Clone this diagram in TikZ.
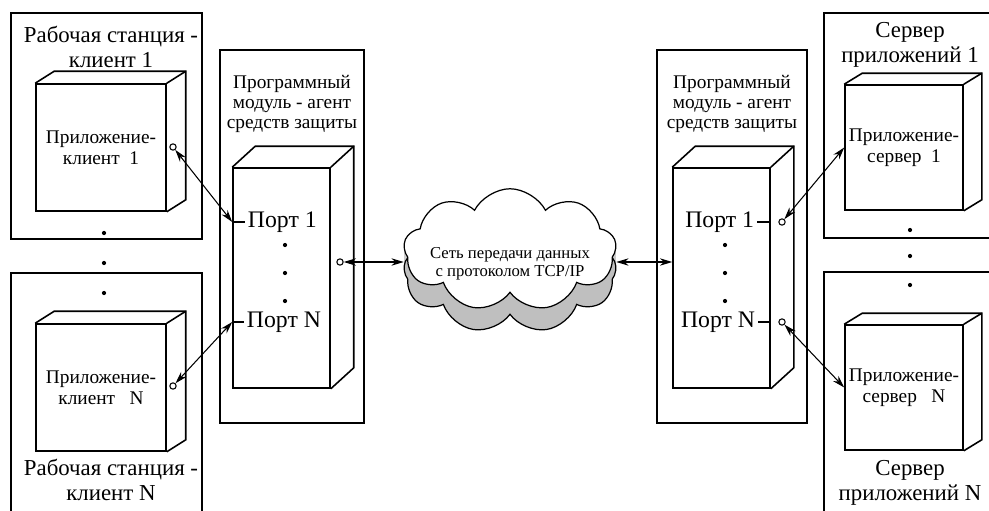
\documentclass[tikz,border=0pt]{standalone}
\usepackage{fontspec}
\setmainfont{Liberation Serif}
\usetikzlibrary{shapes.symbols,arrows.meta}

\tikzset{
  frame/.style={draw, line width=0.6pt},
  face/.style={draw, line width=0.9pt, fill=white, inner sep=0pt, align=center,
    font=\fontsize{11}{12}\selectfont},
  title/.style={align=center, inner sep=1pt, font=\fontsize{13}{14.5}\selectfont},
  agtitle/.style={align=center, inner sep=1pt, font=\fontsize{11}{11.5}\selectfont},
  portlabel/.style={inner sep=1.5pt, font=\fontsize{13.5}{15}\selectfont},
  plug/.style={circle, draw, fill=white, inner sep=0pt, minimum size=3.6pt, line width=0.6pt},
  link/.style={<->, line width=0.6pt},
  netcloud/.style={cloud, cloud puffs=9, cloud puff arc=125, cloud ignores aspect,
    minimum width=4.25cm, minimum height=2.45cm, inner sep=0pt, line width=0.7pt},
  nettext/.style={align=center, inner sep=0pt, font=\fontsize{9.5}{10}\selectfont}
}

% side and top of a box drawn behind its front face
\newcommand{\boxdepth}[3]{%
  \draw[line width=0.9pt] (#1.north west) -- ++(#2,#3) -| ([shift={(#2,#3)}]#1.south east) -- (#1.south east);
  \draw[line width=0.9pt] (#1.north east) -- ++(#2,#3);}

\begin{document}
\begin{tikzpicture}[x=0.02cm, y=-0.02cm, >={Stealth[length=7pt,width=4.2pt]}]
  \useasboundingbox (0,0) rectangle (989,510);

  % frames
  \draw[frame] (11,13) rectangle (202,239);
  \draw[frame] (11,273) rectangle (202,530);
  \draw[frame] (220,50) rectangle (364,423);
  \draw[frame] (657,50) rectangle (807,423);
  \draw[frame] (824,13) rectangle (1000,238);
  \draw[frame] (824,272) rectangle (1000,530);

  % titles
  \node[title] (ws1) at (111,47) {Рабочая станция -\\клиент 1};
  \node[title] (wsN) at (111,480) {Рабочая станция -\\клиент N};
  \node[title] (as1) at (910,45) {Сервер\\приложений 1};
  \node[title] (asN) at (910,483) {Сервер\\приложений N};
  \node[agtitle] (tL) at (292,104) {Программный\\модуль - агент\\средств защиты};
  \node[agtitle] (tR) at (732,104) {Программный\\модуль - агент\\средств защиты};

  % applications
  \node[face, minimum width=2.6cm, minimum height=2.54cm] (cl1) at (101,147.5) {Приложение-\\клиент\ \ 1};
  \boxdepth{cl1}{19}{-12}
  \node[face, minimum width=2.6cm, minimum height=2.54cm] (clN) at (101,387.5) {Приложение-\\клиент\ \ \ N};
  \boxdepth{clN}{19}{-12}
  \node[face, minimum width=2.36cm, minimum height=2.5cm] (sv1) at (904,147.5) {Приложение-\\сервер\ \ 1};
  \boxdepth{sv1}{18}{-11}
  \node[face, minimum width=2.36cm, minimum height=2.5cm] (svN) at (904,387.5) {Приложение-\\сервер\ \ \ N};
  \boxdepth{svN}{18}{-11}

  % agents
  \node[face, minimum width=1.94cm, minimum height=4.4cm] (agL) at (281.5,278) {};
  \boxdepth{agL}{23}{-21}
  \node[face, minimum width=1.94cm, minimum height=4.4cm] (agR) at (721.5,278) {};
  \boxdepth{agR}{23}{-21}

  % ports
  \node[portlabel, anchor=west] (pl1) at (245,222) {Порт 1};
  \node[portlabel, anchor=west] (plN) at (244,322) {Порт N};
  \node[portlabel, anchor=east] (pr1) at (757,222) {Порт 1};
  \node[portlabel, anchor=east] (prN) at (758,322) {Порт N};
  \draw[line width=0.6pt] (agL.west |- pl1) -- (pl1.west);
  \draw[line width=0.6pt] (agL.west |- plN) -- (plN.west);
  \draw[line width=0.6pt] (pr1.east) -- (agR.east |- pr1);
  \draw[line width=0.6pt] (prN.east) -- (agR.east |- prN);
  \foreach \y in {245,273,301} {
    \fill (285,\y) circle (1.2pt);
    \fill (725,\y) circle (1.2pt);
  }
  \foreach \y in {233,263,293} \fill (104,\y) circle (1.2pt);
  \foreach \y in {230,256,285} \fill (910,\y) circle (1.2pt);

  % plugs
  \node[plug] (c1) at (173,147) {};
  \node[plug] (cN) at (173,386) {};
  \node[plug] (cA) at (340,262) {};
  \node[plug] (s1) at (782,222) {};
  \node[plug] (sN) at (782,322) {};

  % network
  \foreach \k in {1,...,21}
    \node[netcloud, fill=gray!40] (sh\k) at (510,250+\k) {};
  \node[netcloud, draw, fill=gray!50] (shb) at (510,272) {};
  \node[netcloud, draw, fill=white] (net) at (510,250) {};
  \node[nettext] (nettxt) at (510,264) {Сеть передачи данных\\с протоколом TCP/IP};

  % links
  \draw[link] (c1) -- (agL.west |- pl1);
  \draw[link] (cN) -- (agL.west |- plN);
  \draw[link] (cA) -- (cA -| net.west);
  \draw[link] (cA -| net.east) -- (cA -| agR.west);
  \draw[link] (s1) -- (sv1.west);
  \draw[link] (sN) -- (svN.west);
\end{tikzpicture}
\end{document}
